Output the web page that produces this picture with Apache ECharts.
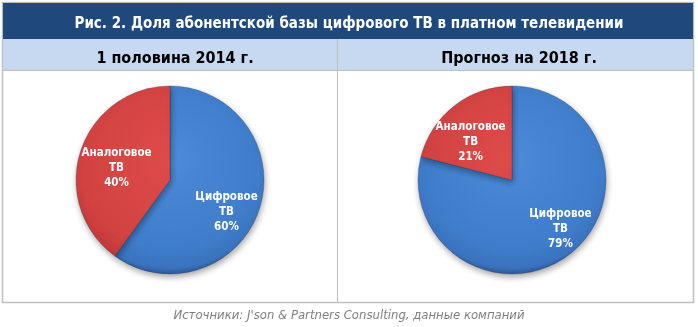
<!DOCTYPE html>
<html><head><meta charset="utf-8">
<script src="https://cdn.jsdelivr.net/npm/echarts@6/dist/echarts.min.js"></script>
<style>html,body{margin:0;padding:0;background:#fff}#c{width:698px;height:327px}</style>
</head><body><div id="c"></div>
<script>
const mainTitle = 'Рис. 2. Доля абонентской базы цифрового ТВ в платном телевидении';
const panelTitles = ['1 половина 2014 г.', 'Прогноз на 2018 г.'];
const categories = ['Цифровое\nТВ', 'Аналоговое\nТВ'];
const values2014 = [60, 40];
const values2018 = [79, 21];
const sourceText = 'Источники: J\'son & Partners Consulting, данные компаний';

const chart = echarts.init(document.getElementById('c'), null, {renderer: 'canvas'});
const R = 94;
const centers = [[170, 180], [512, 180]];
const datasets = [values2014, values2018];
// small nudges of label placement (Excel "best fit" style)
const labelNudges = [[[0, 14], [3, 6]], [[12, 2], [-5, 9]]];

function fillsFor(c) {
  const mk = (stops) => new echarts.graphic.RadialGradient(c[0], c[1] - 20, R + 20, stops, true);
  return [
    mk([{offset: 0, color: '#4c8bd8'}, {offset: 0.8, color: '#3f7cc9'}, {offset: 0.95, color: '#3a72bd'}, {offset: 1, color: '#2c5994'}]),
    mk([{offset: 0, color: '#de4c4a'}, {offset: 0.8, color: '#d14241'}, {offset: 0.95, color: '#c23a39'}, {offset: 1, color: '#9c2d2c'}])
  ];
}

const series = [];
datasets.forEach((vals, k) => {
  const fills = fillsFor(centers[k]);
  series.push({
    type: 'pie', center: centers[k], radius: [0, R], startAngle: 90, clockwise: true,
    silent: true, animation: false,
    data: vals.map((v, i) => ({name: categories[i], value: v, itemStyle: {color: fills[i]}})),
    itemStyle: {borderColor: 'rgba(30,45,80,0.35)', borderWidth: 0.8,
      shadowBlur: 6, shadowColor: 'rgba(0,0,0,0.35)', shadowOffsetY: 3, shadowOffsetX: 1},
    label: {show: false}, labelLine: {show: false}
  });
  series.push({
    type: 'pie', center: centers[k], radius: [0, R * 1.2], startAngle: 90, clockwise: true,
    silent: true, animation: false, z: 5,
    data: vals.map((v, i) => ({name: categories[i], value: v})),
    itemStyle: {color: 'rgba(0,0,0,0)'},
    label: {show: true, position: 'inside', color: '#fff', fontFamily: 'DejaVu Sans Condensed',
      fontWeight: 'bold', fontSize: 11.5, lineHeight: 15,
      formatter: p => p.name + '\n' + p.value + '%'},
    labelLayout: p => ({dx: labelNudges[k][p.dataIndex][0], dy: labelNudges[k][p.dataIndex][1]}),
    labelLine: {show: false}
  });
});

chart.setOption({
  animation: false,
  graphic: [
    {type: 'rect', shape: {x: 2.5, y: 2.5, width: 691, height: 300}, style: {fill: '#fff', stroke: '#bfbfbf', lineWidth: 1.5}, z: -10},
    {type: 'rect', shape: {x: 3, y: 3, width: 690, height: 36}, style: {fill: '#1f497d'}, z: -9},
    {type: 'rect', shape: {x: 3, y: 39, width: 690, height: 31}, style: {fill: '#c6d9f1'}, z: -9},
    {type: 'line', shape: {x1: 3, y1: 70.5, x2: 693, y2: 70.5}, style: {stroke: '#bfbfbf', lineWidth: 1}, z: -8},
    {type: 'line', shape: {x1: 337.5, y1: 39, x2: 337.5, y2: 302}, style: {stroke: '#bfbfbf', lineWidth: 1}, z: -8}
  ],
  title: [
    {text: mainTitle, left: 'center', top: 12, textStyle: {color: '#fff', fontFamily: 'Liberation Sans Narrow, DejaVu Sans Condensed', fontWeight: 'bold', fontSize: 15}},
    {text: panelTitles[0], left: 170, top: 46, textAlign: 'center', textStyle: {color: '#000', fontFamily: 'Liberation Sans Narrow, DejaVu Sans Condensed', fontWeight: 'bold', fontSize: 16}},
    {text: panelTitles[1], left: 514, top: 46, textAlign: 'center', textStyle: {color: '#000', fontFamily: 'Liberation Sans Narrow, DejaVu Sans Condensed', fontWeight: 'bold', fontSize: 16}},
    {text: sourceText, left: 'center', top: 305, textStyle: {color: '#7f7f7f', fontFamily: 'DejaVu Sans', fontStyle: 'italic', fontWeight: 'normal', fontSize: 11.7}}
  ],
  series: series
});
</script></body></html>
